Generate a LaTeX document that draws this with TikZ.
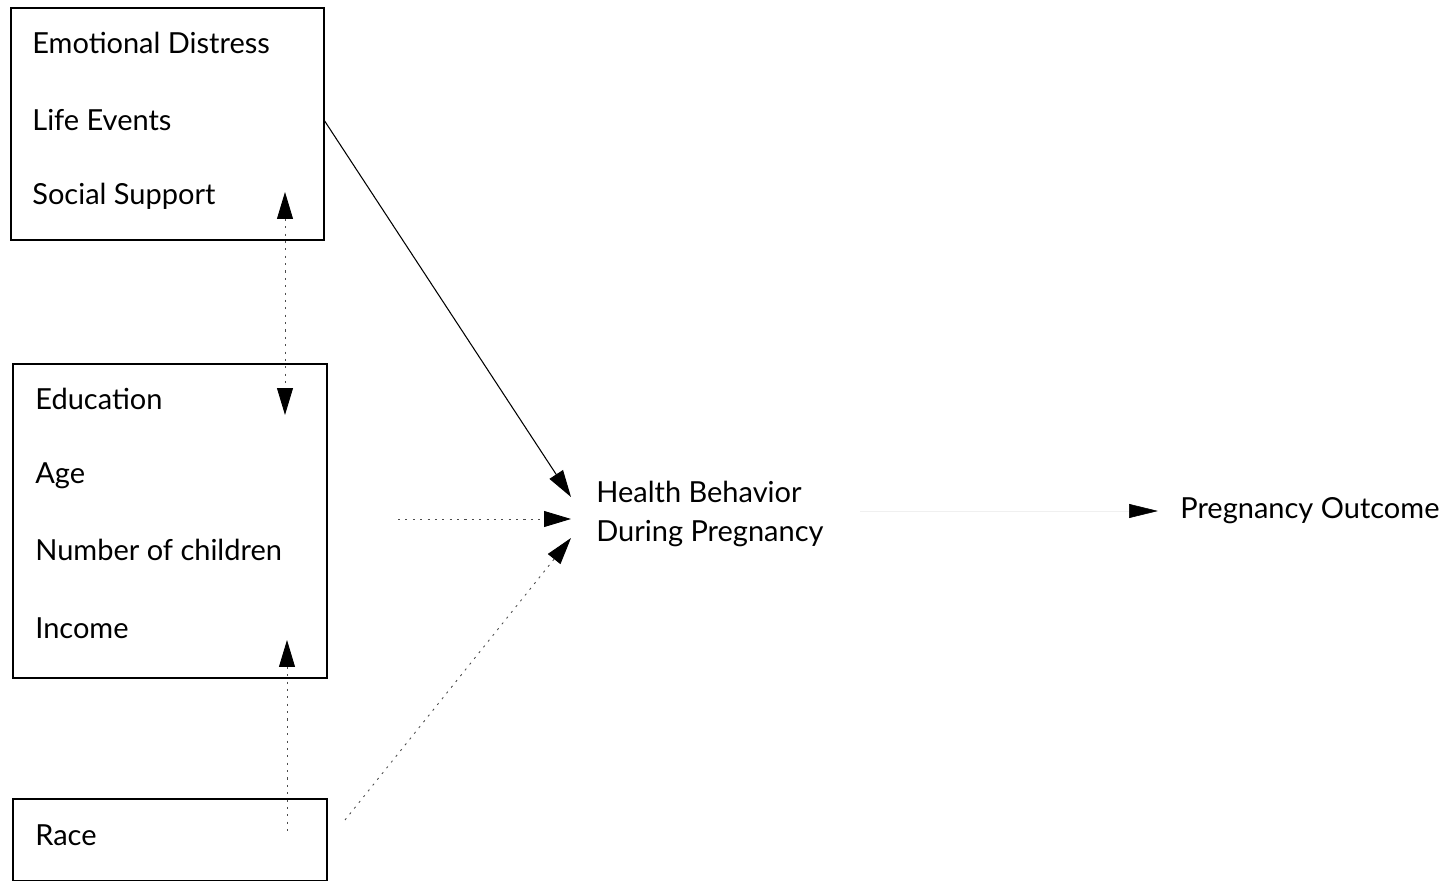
\documentclass[tikz,border=0pt]{standalone}
\usepackage{fontspec}
\setmainfont{Lato}
\usetikzlibrary{arrows.meta}

\tikzset{
    factorbox/.style={draw, line width=1.1pt},
    item/.style={anchor=west, inner sep=0pt, font=\fontsize{16.5}{22}\selectfont},
    headtip/.tip={Triangle[length=0.54cm,width=0.32cm,color=black]},
    tip/.style={-headtip},
    dottedline/.style={line width=0.5pt, dash pattern=on 1.2pt off 3pt, black!70},
}

\begin{document}
\begin{tikzpicture}[x=0.02cm, y=-0.02cm]
        \useasboundingbox (0,0) rectangle (1455,881);

        % the three boxes
        \draw[factorbox] (11,8) rectangle (324,240);
        \draw[factorbox] (13,364) rectangle (327,678);
        \draw[factorbox] (13,799) rectangle (327,881);

        \node[item] (distress) at (32,43) {Emotional Distress};
        \node[item] (life) at (32,120) {Life Events};
        \node[item] (support) at (32,196) {Social Support};

        \node[item] (edu) at (35,399) {Education};
        \node[item] (age) at (35,476) {Age};
        \node[item] (kids) at (35,550) {Number of children};
        \node[item] (income) at (35,628) {Income};

        \node[item] (race) at (35,835) {Race};

        \node[item, align=left] (health) at (596,514) {Health Behavior\\During Pregnancy};
        \node[item] (outcome) at (1180,511) {Pregnancy Outcome};

        % end points of the connectors
        \coordinate (lifeOut) at (324,120);
        \coordinate (hbTop) at (571,497);
        \coordinate (hbMid) at (571,519);
        \coordinate (hbLow) at (571,538);
        \coordinate (sesOut) at (398,519);
        \coordinate (raceOut) at (345,820);
        \coordinate (supTip) at (285,192);
        \coordinate (eduTip) at (285,415);
        \coordinate (incTip) at (287,640);
        \coordinate (raceIn) at (287,835);
        \coordinate (hbOut) at (860,511);
        \coordinate (outIn) at (1158,511);

        \draw[tip, line width=0.6pt] (lifeOut) -- (hbTop);
        \draw[tip, dottedline] (sesOut) -- (hbMid);
        \draw[tip, dottedline] (raceOut) -- (hbLow);

        \draw[headtip-headtip, dottedline] (supTip) -- (eduTip);
        \draw[headtip-, dottedline] (incTip) -- (raceIn);

        \draw[-{Triangle[length=0.58cm,width=0.28cm,color=black]}, line width=0.3pt, black!6] (hbOut) -- (outIn);
    \end{tikzpicture}
\end{document}
